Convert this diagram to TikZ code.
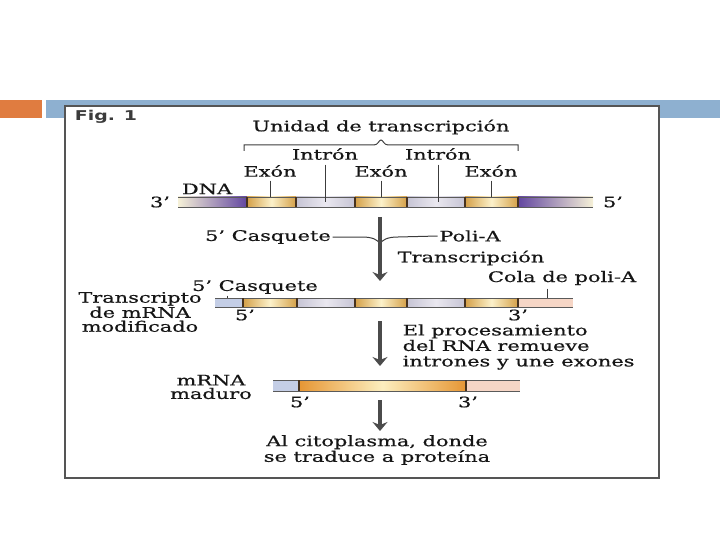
\documentclass[tikz,border=0pt]{standalone}
\usepackage{fontspec}
\setmainfont[FakeStretch=1.44, FakeBold=0.6]{DejaVu Serif}
\newfontfamily\figfont[FakeStretch=1.4]{DejaVu Sans}
\usetikzlibrary{arrows.meta}
\definecolor{txt}{RGB}{22,22,22}
\definecolor{lnc}{RGB}{60,60,60}
\definecolor{arc}{RGB}{75,75,75}
\definecolor{slideor}{RGB}{224,124,64}
\definecolor{slidebl}{RGB}{142,176,208}
\definecolor{boxc}{RGB}{85,85,85}
\definecolor{exg}{RGB}{212,160,72}
\definecolor{exl}{RGB}{252,241,202}
\definecolor{ing}{RGB}{198,196,212}
\definecolor{inl}{RGB}{234,232,240}
\definecolor{purp}{RGB}{98,70,160}
\definecolor{endc}{RGB}{246,241,216}
\definecolor{capc}{RGB}{196,206,230}
\definecolor{tailc}{RGB}{246,214,198}
\definecolor{mexo}{RGB}{230,150,52}
\definecolor{mexl}{RGB}{252,238,190}
\definecolor{bardk}{RGB}{90,90,90}
\definecolor{tickc}{RGB}{70,50,30}
\newcommand\lblfont{\fontsize{14.5}{14}\selectfont}
\tikzset{
  lbl/.style={text=txt, font=\lblfont, inner sep=1.5pt},
  exon/.style={left color=exg, right color=exg, middle color=exl},
  intron/.style={left color=ing, right color=ing, middle color=inl},
  barline/.style={draw=bardk, line width=0.8pt},
  tickln/.style={draw=tickc, line width=1.6pt},
  conn/.style={draw=lnc, line width=1pt},
  bigarrow/.style={draw=arc, line width=3.5pt, -{Stealth[length=9pt,width=15pt,inset=3pt]}}
}
\begin{document}
\begin{tikzpicture}[x=1pt,y=-1pt]
\useasboundingbox (0,0) rectangle (720,540);
\fill[white] (0,0) rectangle (720,540);
% slide decoration
\fill[slideor] (0,100) rectangle (42,118);
\fill[slidebl] (46,100) rectangle (720,118);
% figure box
\draw[boxc, fill=white, line width=1.8pt] (65,106) rectangle (659,478);
\node[text=boxc!70!black, font={\figfont\bfseries\fontsize{13.5}{13.5}\selectfont}, inner sep=0pt] (fig) at (106,117) {Fig. 1};

% ---------- DNA ----------
\node[lbl] (uni) at (381,127) {Unidad de transcripción};
\draw[conn] (244,151) -- (244,145) -- (374,145) .. controls (378,145) and (379,140) .. (381,140)
  .. controls (383,140) and (384,145) .. (388,145) -- (518,145) -- (518,151);
\node[lbl] (int1) at (325,154) {Intrón};
\node[lbl] (int2) at (438,154) {Intrón};
\node[lbl] (ex1) at (270,171) {Exón};
\node[lbl] (ex2) at (381,171) {Exón};
\node[lbl] (ex3) at (491,171) {Exón};
\node[lbl] (dna) at (207,189) {DNA};
\node[lbl] (d3) at (160,202) {3’};
\node[lbl] (d5) at (613,202) {5’};

\fill[left color=endc, right color=purp] (178,197) rectangle (247,207);
\fill[exon] (247,197) rectangle (296,207);
\fill[intron] (296,197) rectangle (355,207);
\fill[exon] (355,197) rectangle (407,207);
\fill[intron] (407,197) rectangle (465,207);
\fill[exon] (465,197) rectangle (518,207);
\fill[left color=purp, right color=endc] (518,197) rectangle (593,207);
\draw[barline] (178,197) -- (593,197) (178,207) -- (593,207);
\foreach \x in {247,296,355,407,465,518} \draw[tickln] (\x,197) -- (\x,207);

\coordinate (e1b) at (270,197);
\coordinate (e2b) at (381,197);
\coordinate (e3b) at (491,197);
\coordinate (i1b) at (325,202);
\coordinate (i2b) at (438,202);
\draw[conn, shorten <=2pt] (ex1.south) -- (e1b);
\draw[conn, shorten <=2pt] (ex2.south) -- (e2b);
\draw[conn, shorten <=2pt] (ex3.south) -- (e3b);
\draw[conn, shorten <=3pt] (int1.south) -- (i1b);
\draw[conn, shorten <=3pt] (int2.south) -- (i2b);

% ---------- transcription ----------
\node[lbl] (cas1) at (268,237) {5’ Casquete};
\node[lbl] (poli) at (470,236) {Poli-A};
\coordinate (join) at (380,244);
\draw[conn] (cas1.east) -- (362,237) .. controls (373,237) and (378,240) .. (join);
\draw[conn] (poli.west) -- (398,237) .. controls (387,237) and (382,240) .. (join);
\coordinate (a1s) at (380,217);
\coordinate (a1e) at (380,281);
\draw[bigarrow] (a1s) -- (a1e);
\node[lbl] (trans) at (471,258) {Transcripción};

% ---------- transcript ----------
\node[lbl] (cas2) at (255,287) {5’ Casquete};
\node[lbl] (cola) at (562,278) {Cola de poli-A};
\node[lbl, align=center] (tmod) at (140,312) {Transcripto\\de mRNA\\modificado};
\fill[capc] (215,298) rectangle (243,307);
\fill[exon] (243,298) rectangle (297,307);
\fill[intron] (297,298) rectangle (355,307);
\fill[exon] (355,298) rectangle (407,307);
\fill[intron] (407,298) rectangle (465,307);
\fill[exon] (465,298) rectangle (518,307);
\fill[tailc] (518,298) rectangle (573,307);
\draw[barline] (215,298) -- (573,298) (215,307) -- (573,307);
\foreach \x in {243,297,355,407,465,518} \draw[tickln] (\x,298) -- (\x,307);
\coordinate (ctk) at (227,298);
\coordinate (ptk) at (547,298);
\draw[conn] (ctk |- cas2.south) -- (ctk);
\draw[conn] (ptk |- cola.south) ++(0,2) -- (ptk);
\node[lbl] (t5) at (245,315) {5’};
\node[lbl] (t3) at (518,315) {3’};

% ---------- processing ----------
\coordinate (a2s) at (380,321);
\coordinate (a2e) at (380,366);
\draw[bigarrow] (a2s) -- (a2e);
\node[lbl, align=left, anchor=west, font={\fontsize{14.5}{15.5}\selectfont}] (proc) at (401,347)
  {El procesamiento\\del RNA remueve\\intrones y une exones};

% ---------- mature mRNA ----------
\node[lbl, align=center, font={\fontsize{14.5}{13.5}\selectfont}] (mad) at (211,387) {mRNA\\maduro};
\fill[capc] (273,380) rectangle (299,391);
\fill[left color=mexo, right color=mexo, middle color=mexl] (299,380) rectangle (466,391);
\fill[tailc] (466,380) rectangle (520,391);
\draw[barline] (273,380) -- (520,380) (273,391) -- (520,391);
\foreach \x in {299,466} \draw[tickln] (\x,380) -- (\x,391);
\node[lbl] (m5) at (300,402) {5’};
\node[lbl] (m3) at (468,402) {3’};

\coordinate (a3s) at (380,400);
\coordinate (a3e) at (380,431);
\draw[bigarrow] (a3s) -- (a3e);
\node[lbl, align=center] (cito) at (377,450) {Al citoplasma, donde\\se traduce a proteína};
\end{tikzpicture}
\end{document}
